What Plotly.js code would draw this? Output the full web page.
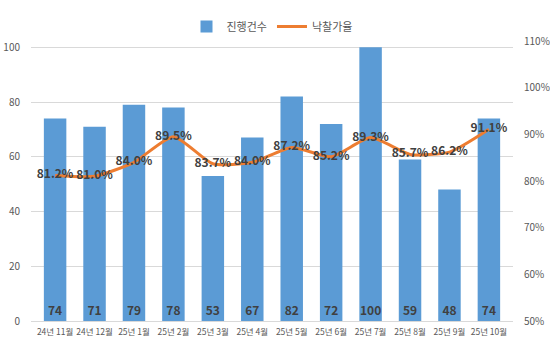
<!DOCTYPE html>
<html><head><meta charset="utf-8">
<script src="https://cdn.plot.ly/plotly-3.0.1.min.js"></script>
<style>html,body{margin:0;padding:0;background:#fff}#c{width:550px;height:344px}</style>
</head><body><div id="c"></div>
<script>
var months = ['24년 11월','24년 12월','25년 1월','25년 2월','25년 3월','25년 4월','25년 5월','25년 6월','25년 7월','25년 8월','25년 9월','25년 10월'];
var counts = [74,71,79,78,53,67,82,72,100,59,48,74];
var rates = [81.2,81.0,84.0,89.5,83.7,84.0,87.2,85.2,89.3,85.7,86.2,91.1];
var leftTicks = [0,20,40,60,80,100];
var rightTicks = [50,60,70,80,90,100,110];

var F = 'Noto Sans CJK KR, Noto Sans, sans-serif';
var bar = {
  type:'bar', x:months, y:counts, name:'진행건수',
  marker:{color:'#5b9bd5'}, width:0.57,
  text:counts.map(String), textposition:'inside', insidetextanchor:'start', textangle:0,
  textfont:{family:F, size:12, color:'#404040', weight:'bold'},
  cliponaxis:false
};
var line = {
  type:'scatter', mode:'lines+text', x:months, y:rates, yaxis:'y2', name:'낙찰가율',
  line:{color:'#ed7d31', width:3, shape:'spline', smoothing:0.6},
  text:rates.map(function(v){return v.toFixed(1)+'%';}), textposition:'middle center',
  textfont:{family:F, size:12, color:'#404040', weight:'bold'},
  cliponaxis:false
};
var layout = {
  width:550, height:344,
  margin:{l:31, r:37, t:33, b:23},
  paper_bgcolor:'#fff', plot_bgcolor:'#fff',
  font:{family:F, color:'#595959', size:10},
  uniformtext:{mode:'show', minsize:12},
  showlegend:true,
  legend:{orientation:'h', x:0.5, xanchor:'center', y:1.0, yanchor:'bottom', yref:'paper',
          font:{family:F, size:11, color:'#595959'}, traceorder:'normal', itemwidth:30},
  hovermode:false,
  xaxis:{type:'category', showgrid:false, zeroline:false, showline:false, ticks:'', tickangle:0,
         tickfont:{family:F, size:8.5, color:'#595959'}, ticklabelstandoff:4, fixedrange:true},
  yaxis:{range:[0,102.3], tickvals:leftTicks, ticktext:leftTicks.map(String),
         showgrid:true, gridcolor:'#d9d9d9', gridwidth:1, zeroline:true, zerolinecolor:'#d9d9d9',
         showline:false, ticks:'', ticklabelstandoff:10,
         tickfont:{family:F, size:10, color:'#595959'}},
  yaxis2:{overlaying:'y', side:'right', range:[50,110], tickvals:rightTicks,
          ticktext:rightTicks.map(function(v){return v+'%';}),
          showgrid:false, zeroline:false, showline:false, ticks:'', ticklabelstandoff:10,
          tickfont:{family:F, size:10, color:'#595959'}}
};
Plotly.newPlot('c',[bar,line],layout,{displayModeBar:false, staticPlot:true});
</script></body></html>
